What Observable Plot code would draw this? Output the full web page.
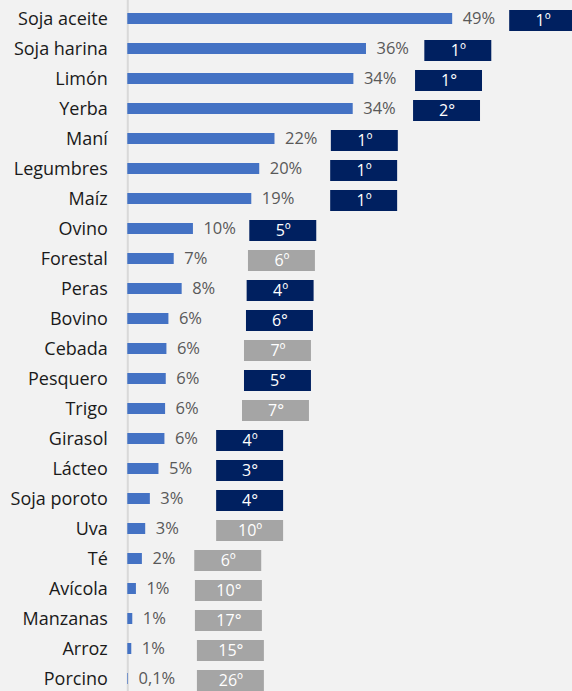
<!DOCTYPE html>
<html><head><meta charset="utf-8">
<script src="https://cdn.jsdelivr.net/npm/d3@7"></script>
<script src="https://cdn.jsdelivr.net/npm/@observablehq/plot@0.6"></script>
<style>
html,body{margin:0;padding:0;background:#f2f2f2;overflow:hidden;}
#chart svg{display:block;overflow:hidden;}
</style>
</head><body><div id="chart"></div>
<script>
const categories = ["Soja aceite","Soja harina","Limón","Yerba","Maní","Legumbres","Maíz","Ovino","Forestal","Peras","Bovino","Cebada","Pesquero","Trigo","Girasol","Lácteo","Soja poroto","Uva","Té","Avícola","Manzanas","Arroz","Porcino"];
const values = [49.0,36.0,34.1,34.0,22.2,19.9,18.7,9.9,7.0,8.2,6.2,5.9,5.8,5.7,5.6,4.7,3.4,2.7,2.2,1.3,0.75,0.6,0.1];
const valueLabels = ["49%","36%","34%","34%","22%","20%","19%","10%","7%","8%","6%","6%","6%","6%","6%","5%","3%","3%","2%","1%","1%","1%","0,1%"];
const ranks = ["1º","1º","1°","2°","1º","1º","1º","5º","6º","4º","6°","7º","5°","7°","4º","3°","4°","10º","6º","10°","17°","15°","26º"];
const rankHighlighted = [true,true,true,true,true,true,true,true,false,true,true,false,true,false,true,true,true,false,false,false,false,false,false];
const rankAt = [57.6,44.8,43.4,43.1,30.7,30.6,30.6,18.4,18.2,18.0,17.9,17.6,17.6,17.3,13.4,13.4,13.4,13.4,10.1,10.2,10.2,10.5,10.5];

const data = categories.map((c, i) => ({cat: c, value: values[i], label: valueLabels[i], rank: ranks[i], top: rankHighlighted[i], at: rankAt[i]}));
const BOX_W = 10.1;

const chart = Plot.plot({
  width: 572, height: 691,
  marginLeft: 127, marginRight: 0, marginTop: 0, marginBottom: 0,
  style: {background: "#f2f2f2", fontFamily: "'Open Sans', 'Noto Sans', sans-serif"},
  x: {domain: [0, (572 - 127.3) / 6.63], range: [127.3, 572], axis: null},
  y: {domain: categories, range: [4, 694], paddingInner: 0.63, paddingOuter: 0.315, axis: null},
  marks: [
    Plot.ruleX([0], {stroke: "#d9d9d9", strokeWidth: 2}),
    Plot.barX(data, {x: "value", y: "cat", fill: "#4472c4"}),
    Plot.text(data, {x: "value", y: "cat", text: "label", textAnchor: "start", dx: 10, fill: "#595959", fontSize: 16.5}),
    Plot.barX(data, {x1: "at", x2: d => d.at + BOX_W, y: "cat", fill: d => d.top ? "#002060" : "#a5a5a5", insetTop: -5, insetBottom: -5, dy: 2}),
    Plot.text(data, {x: d => d.at + BOX_W / 2, y: "cat", text: "rank", fill: "white", fontSize: 16, dy: 2}),
    Plot.text(data, {x: 0, y: "cat", text: "cat", textAnchor: "end", dx: -20, fill: "#1a1a1a", fontSize: 18})
  ]
});
document.getElementById("chart").appendChild(chart);
</script>
</body></html>
